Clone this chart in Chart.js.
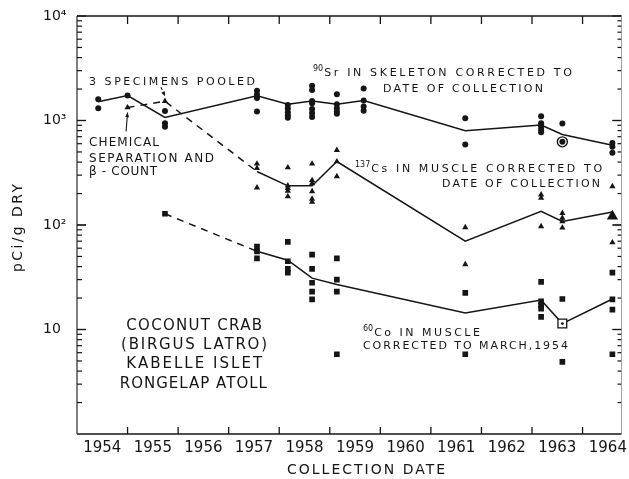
<!DOCTYPE html>
<html>
<head>
<meta charset="utf-8">
<title>Coconut crab, Kabelle Islet</title>
<script src="https://cdn.jsdelivr.net/npm/chart.js@4.4.1/dist/chart.umd.min.js"></script>
<style>
  html, body { margin: 0; padding: 0; background: #fff; }
  canvas { display: block; }
</style>
</head>
<body>
<canvas id="crab-chart" width="629" height="479"></canvas>
<script>
'use strict';

// ─── Data ─────────────────────────────────────────────────────────────────────

// collection dates, decimal years
const dates = [1954.42, 1955.0, 1955.74, 1957.56, 1958.17, 1958.65, 1959.14, 1959.67, 1961.68, 1963.18, 1963.6, 1964.59];

// single specimens, pCi/g dry, one list per collection date
const srSamples = [
  [1600, 1310], [1730], [1230, 940, 870], [1930, 1760, 1640, 1220],
  [1410, 1300, 1200, 1120, 1060], [2150, 1960, 1540, 1460, 1290, 1180, 1080],
  [1780, 1430, 1310, 1220, 1160], [2020, 1550, 1360, 1240], [1050, 590],
  [1100, 940, 880, 820, 770], [935, 625], [610, 560, 490],
];
const csSamples = [
  [], [1330], [1530], [385, 350, 228], [355, 238, 225, 212, 188],
  [385, 268, 250, 210, 178, 166], [520, 405, 292], [], [95, 42],
  [195, 181, 97], [130, 117, 108, 94], [234, 68],
];
const coSamples = [
  [], [], [128], [62, 56, 48], [69, 45, 38, 35], [52, 38, 28, 23, 19.4],
  [48, 30, 23, 5.8], [], [22.4, 5.8], [28.6, 18.6, 17, 15.8, 13.2],
  [19.6, 4.9], [35, 19.4, 15.5, 5.8],
];

// curves through the date means (null = not on that curve)
const srTrend = [1515, 1730, 1070, 1720, 1430, 1540, 1430, 1550, 800, 905, 735, 580];
const csTrend = [null, null, null, 325, 237, 237, 405, null, 70, 135, 108, 133];
const csEarly = [null, 1330, 1530, 325, null, null, null, null, null, null, null, null];
const coTrend = [null, null, null, 56, 46, 31, 27, null, 14.4, 19.1, 11.4, 19.6];
const coEarly = [null, null, 128, 56, null, null, null, null, null, null, null, null];

// specimens with their own symbol: [date index, value]
const srRinged = [[10, 625]];
const csLarge  = [[11, 121]];
const coBoxed  = [[10, 11.4]];

// axes
const years = [1954, 1955, 1956, 1957, 1958, 1959, 1960, 1961, 1962, 1963, 1964];
const decades = [1, 10, 100, 1000, 10000];
const decadeLabels = ['', '10', '10²', '10³', '10⁴'];

// ─── Helpers ──────────────────────────────────────────────────────────────────

const ink  = '#151515';
const FONT = '"DejaVu Sans", sans-serif';

const curve   = vals => vals.map((v, i) => v == null ? null : { x: dates[i], y: v }).filter(Boolean);
const spread  = groups => groups.flatMap((g, i) => g.map(v => ({ x: dates[i], y: v })));
const picked  = pairs => pairs.map(([i, v]) => ({ x: dates[i], y: v }));

function marks(data, style, radius, extra) {
  return Object.assign({
    data, pointStyle: style, pointRadius: radius,
    backgroundColor: ink, borderColor: ink, borderWidth: 0, showLine: false,
  }, extra || {});
}

function trend(data, dash) {
  return {
    data, showLine: true, pointRadius: 0, borderColor: ink, borderWidth: 1.5,
    borderDash: dash || [], tension: 0, fill: false,
  };
}

// text stretched with even letter gaps across the given width
function spaced(ctx, text, x, y, width) {
  ctx.letterSpacing = '0px';
  const w = ctx.measureText(text).width;
  const gap = text.length > 1 ? (width - w) / (text.length - 1) : 0;
  ctx.letterSpacing = gap.toFixed(2) + 'px';
  ctx.fillText(text, x, y);
  ctx.letterSpacing = '0px';
}

function segment(ctx, x0, y0, x1, y1) {
  ctx.beginPath();
  ctx.moveTo(x0, y0);
  ctx.lineTo(x1, y1);
  ctx.stroke();
}

function arrow(ctx, x0, y0, x1, y1, dash) {
  ctx.save();
  ctx.setLineDash(dash || []);
  segment(ctx, x0, y0, x1, y1);
  ctx.setLineDash([]);
  const a = Math.atan2(y1 - y0, x1 - x0);
  ctx.beginPath();
  ctx.moveTo(x1, y1);
  ctx.lineTo(x1 - 5 * Math.cos(a - 0.4), y1 - 5 * Math.sin(a - 0.4));
  ctx.lineTo(x1 - 5 * Math.cos(a + 0.4), y1 - 5 * Math.sin(a + 0.4));
  ctx.closePath();
  ctx.fill();
  ctx.restore();
}

// ─── Text blocks ──────────────────────────────────────────────────────────────

const notes = [
  { text: '3 SPECIMENS POOLED', x: 89, y: 85, w: 166, size: 11 },
  { text: 'CHEMICAL', x: 89, y: 146, w: 70, size: 12 },
  { text: 'SEPARATION AND', x: 89, y: 161.5, w: 125, size: 12 },
  { text: 'β - COUNT', x: 89, y: 175, w: 68, size: 12 },
  { sup: '90', text: 'Sr IN SKELETON CORRECTED TO', x: 313, y: 76, w: 259, size: 11 },
  { text: 'DATE OF COLLECTION', x: 383, y: 91.7, w: 160, size: 11 },
  { sup: '137', text: 'Cs IN MUSCLE CORRECTED TO', x: 355, y: 172.3, w: 247, size: 11 },
  { text: 'DATE OF COLLECTION', x: 442, y: 186.7, w: 158, size: 11 },
  { sup: '60', text: 'Co IN MUSCLE', x: 363, y: 336, w: 117, size: 11 },
  { text: 'CORRECTED TO MARCH,1954', x: 363, y: 349, w: 205, size: 11 },
  { text: 'COCONUT CRAB', x: 126.3, y: 330, w: 135.7, size: 15 },
  { text: '(BIRGUS LATRO)', x: 121, y: 348.5, w: 146, size: 15 },
  { text: 'KABELLE ISLET', x: 126.3, y: 368, w: 135.7, size: 15 },
  { text: 'RONGELAP ATOLL', x: 119.7, y: 388, w: 147.3, size: 15 },
];

// ─── Plugin: frame with inward ticks, notes, axis titles ─────────────────────

const framePlugin = {
  id: 'frame',
  afterDraw(chart) {
    const { ctx, chartArea: a, scales } = chart;
    const xs = scales.x;
    const ys = scales.y;
    ctx.save();
    ctx.setLineDash([]);
    ctx.strokeStyle = ink;
    ctx.fillStyle = ink;

    ctx.lineWidth = 1.5;
    segment(ctx, a.left, a.top, a.right, a.top);
    segment(ctx, a.left, a.bottom, a.right, a.bottom);
    ctx.lineWidth = 1.1;
    segment(ctx, a.left, a.top, a.left, a.bottom);

    // year ticks, pointing into the plot from top and bottom
    ctx.lineWidth = 1.3;
    years.slice(1).forEach(yr => {
      const px = xs.getPixelForValue(yr);
      segment(ctx, px, a.top, px, a.top + 8);
      segment(ctx, px, a.bottom, px, a.bottom - 7);
    });
    // log ticks on both sides
    ctx.lineWidth = 1.2;
    decades.slice(0, -1).forEach(d => {
      for (let k = 1; k <= 10; k++) {
        if (d === 1 && k === 1) continue;
        const major = k === 1 || k === 10;
        const py = ys.getPixelForValue(d * k);
        segment(ctx, a.left, py, a.left + (major ? 9 : 5), py);
        segment(ctx, a.right, py, a.right - (major ? 9 : 4), py);
      }
    });
    ctx.strokeStyle = '#8a8a8a';
    ctx.lineWidth = 0.8;
    segment(ctx, a.right, a.top, a.right, a.bottom);

    ctx.strokeStyle = ink;
    ctx.textAlign = 'left';
    ctx.textBaseline = 'alphabetic';
    for (const n of notes) {
      let left = n.x;
      if (n.sup) {
        ctx.font = `${Math.round(n.size * 0.75)}px ${FONT}`;
        ctx.fillText(n.sup, left, n.y - 5);
        left += ctx.measureText(n.sup).width + 1;
      }
      ctx.font = `${n.size}px ${FONT}`;
      spaced(ctx, n.text, left, n.y, n.w - (left - n.x));
    }

    // leader to the pooled sample
    ctx.lineWidth = 1.1;
    const px = xs.getPixelForValue(dates[2]);
    const py = ys.getPixelForValue(csEarly[2]);
    arrow(ctx, px - 4, py - 14, px, py - 5, [3, 2]);
    // leader up to the first chemically separated sample
    const qx = xs.getPixelForValue(dates[1]);
    const qy = ys.getPixelForValue(csEarly[1]);
    arrow(ctx, qx - 1.5, qy + 24, qx, qy + 5);

    // axis titles
    ctx.font = `14px ${FONT}`;
    spaced(ctx, 'COLLECTION DATE', 287, 474, 158);
    ctx.translate(22, 227);
    ctx.rotate(-Math.PI / 2);
    spaced(ctx, 'pCi/g DRY', -45, 0, 88);
    ctx.restore();
  },
};

// ─── Chart ────────────────────────────────────────────────────────────────────

new Chart(document.getElementById('crab-chart'), {
  type: 'scatter',
  data: {
    datasets: [
      marks(spread(srSamples), 'circle', 3),
      marks(spread(csSamples), 'triangle', 3.6),
      marks(spread(coSamples), 'rect', 4),
      marks(picked(coBoxed), 'circle', 1.4),
      marks(picked(srRinged), 'circle', 5, { backgroundColor: '#fff', borderWidth: 1.4 }),
      marks(picked(coBoxed), 'rect', 6.2, { backgroundColor: '#fff', borderWidth: 1.3 }),
      marks(picked(csLarge), 'triangle', 6.5),
      trend(curve(srTrend)),
      trend(curve(csTrend)),
      trend(curve(coTrend)),
      trend(curve(csEarly), [7, 6]),
      trend(curve(coEarly), [7, 6]),
    ],
  },
  options: {
    responsive: false,
    animation: false,
    layout: { padding: { left: 43, top: 16, right: 4, bottom: 0 } },
    plugins: { legend: { display: false }, tooltip: { enabled: false } },
    scales: {
      x: {
        type: 'linear',
        min: 1954,
        max: 1964.77,
        grid: { display: false, drawTicks: false },
        border: { display: false },
        afterBuildTicks: s => { s.ticks = years.map(yr => ({ value: yr + 0.5 })); },
        afterFit: s => { s.height = 45; s.paddingLeft = 0; s.paddingRight = 0; },
        ticks: {
          callback: v => String(Math.floor(v)),
          font: { family: FONT, size: 15 },
          color: ink,
          padding: 5,
          maxRotation: 0,
          autoSkip: false,
        },
      },
      y: {
        type: 'logarithmic',
        min: 1,
        max: 10000,
        grid: { display: false, drawTicks: false },
        border: { display: false },
        afterBuildTicks: s => { s.ticks = decades.map(v => ({ value: v })); },
        afterFit: s => { s.width = 34; s.paddingTop = 0; s.paddingBottom = 0; },
        ticks: {
          callback: (v, i) => decadeLabels[i],
          font: { family: FONT, size: 14 },
          color: ink,
          crossAlign: 'far',
          autoSkip: false,
        },
      },
    },
  },
  plugins: [framePlugin],
});
</script>
</body>
</html>
